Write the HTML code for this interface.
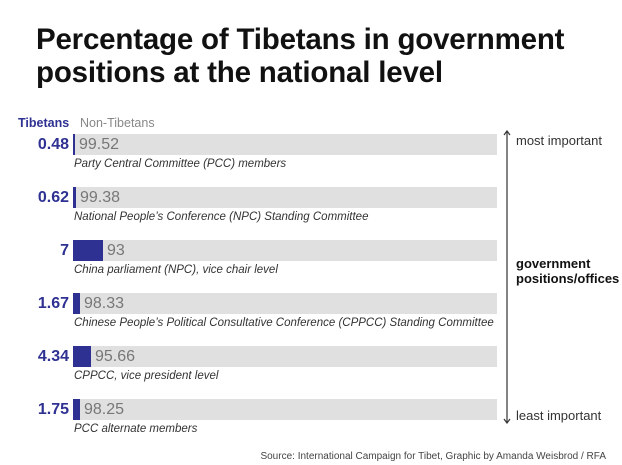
<!DOCTYPE html>
<html><head><style>
body{margin:0;width:622px;height:465px;background:#fff;font-family:"Liberation Sans",sans-serif;position:relative;overflow:hidden}
.a{position:absolute;white-space:nowrap}
.t{left:36px;font-size:29.5px;font-weight:bold;color:#111;letter-spacing:-0.2px}
.bar{position:absolute;left:73px;width:424px;height:21px;background:#e0e0e0}
.tb{position:absolute;left:73px;height:21px;background:#2e3192}
.v{position:absolute;right:553px;font-size:16px;font-weight:bold;color:#2e3192;line-height:21px}
.g{position:absolute;font-size:16px;color:#777;line-height:21px}
.l{position:absolute;left:74px;font-size:11.5px;font-style:italic;color:#333}
</style></head><body>
<div class="a t" style="top:23px">Percentage of Tibetans in government</div>
<div class="a t" style="top:56px">positions at the national level</div>
<div class="a" style="left:18px;top:116px;font-size:12.5px;font-weight:bold;color:#2e3192">Tibetans</div>
<div class="a" style="left:80px;top:116px;font-size:12.5px;color:#888">Non-Tibetans</div>

<div class="bar" style="top:134px"></div><div class="tb" style="top:134px;width:2px"></div>
<div class="v" style="top:134px">0.48</div><div class="g" style="top:134px;left:79px">99.52</div>
<div class="l" style="top:158px">Party Central Committee (PCC) members</div>

<div class="bar" style="top:187px"></div><div class="tb" style="top:187px;width:3px"></div>
<div class="v" style="top:187px">0.62</div><div class="g" style="top:187px;left:80px">99.38</div>
<div class="l" style="top:211px">National People’s Conference (NPC) Standing Committee</div>

<div class="bar" style="top:240px"></div><div class="tb" style="top:240px;width:30px"></div>
<div class="v" style="top:240px">7</div><div class="g" style="top:240px;left:107px">93</div>
<div class="l" style="top:264px">China parliament (NPC), vice chair level</div>

<div class="bar" style="top:293px"></div><div class="tb" style="top:293px;width:7px"></div>
<div class="v" style="top:293px">1.67</div><div class="g" style="top:293px;left:84px">98.33</div>
<div class="l" style="top:317px">Chinese People’s Political Consultative Conference (CPPCC) Standing Committee</div>

<div class="bar" style="top:346px"></div><div class="tb" style="top:346px;width:18px"></div>
<div class="v" style="top:346px">4.34</div><div class="g" style="top:346px;left:95px">95.66</div>
<div class="l" style="top:370px">CPPCC, vice president level</div>

<div class="bar" style="top:399px"></div><div class="tb" style="top:399px;width:7px"></div>
<div class="v" style="top:399px">1.75</div><div class="g" style="top:399px;left:84px">98.25</div>
<div class="l" style="top:423px">PCC alternate members</div>

<svg class="a" style="left:500px;top:128px" width="14" height="300">
<line x1="7" y1="3" x2="7" y2="295" stroke="#333" stroke-width="1.2"/>
<path d="M4,7 L7,3 L10,7" fill="none" stroke="#333" stroke-width="1.2"/>
<path d="M4,291 L7,295 L10,291" fill="none" stroke="#333" stroke-width="1.2"/>
</svg>
<div class="a" style="left:516px;top:133px;font-size:13px;color:#333">most important</div>
<div class="a" style="left:516px;top:408px;font-size:13px;color:#333">least important</div>
<div class="a" style="left:516px;top:256px;font-size:13px;font-weight:bold;color:#111;line-height:15px">government<br>positions/offices</div>
<div class="a" style="right:16px;top:451px;font-size:10px;color:#444">Source: International Campaign for Tibet, Graphic by Amanda Weisbrod / RFA</div>
</body></html>
